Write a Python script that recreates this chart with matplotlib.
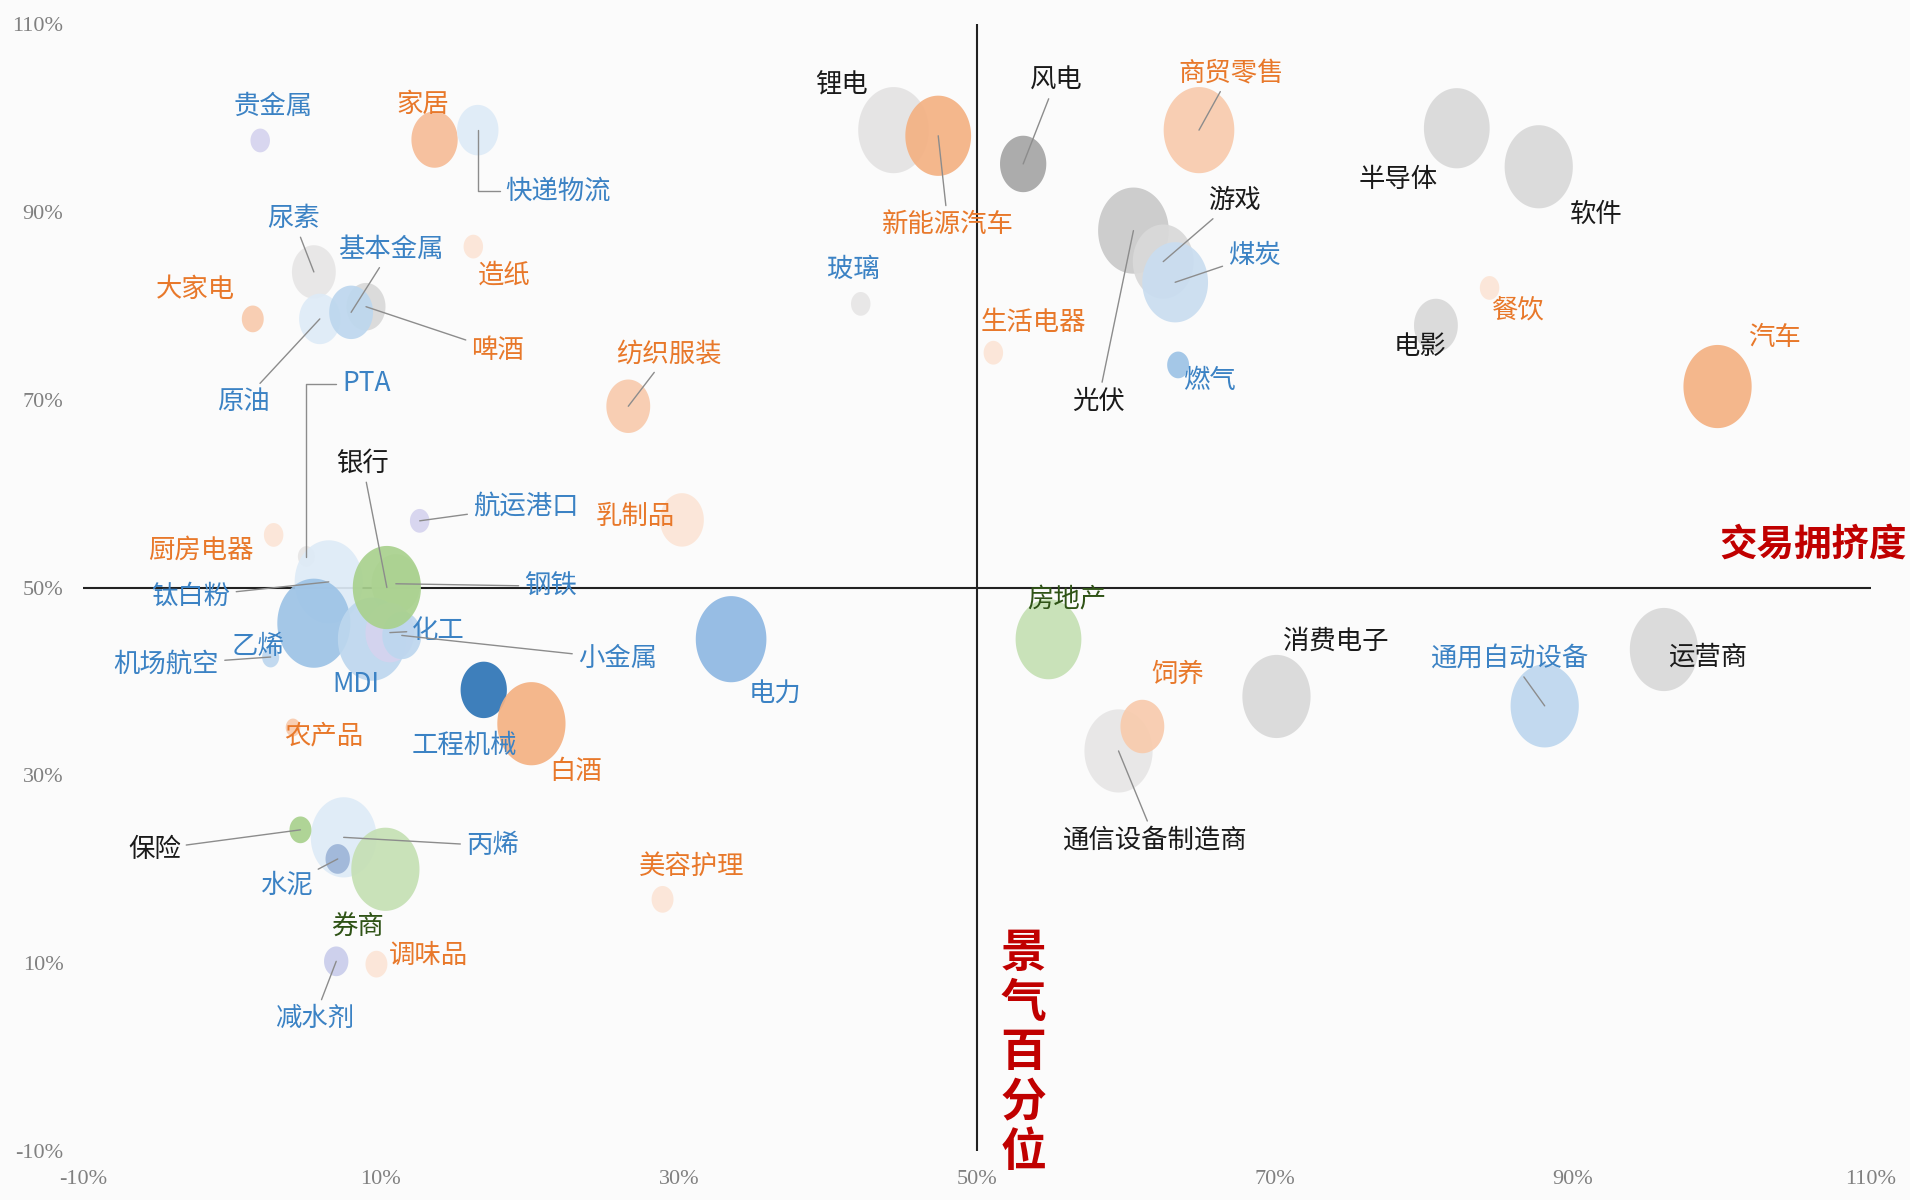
import numpy as np
import matplotlib
matplotlib.use("Agg")
import matplotlib.pyplot as plt
from matplotlib.path import Path

plt.rcParams['font.family'] = ['Noto Sans CJK SC', 'DejaVu Sans']

# ---------------- data ----------------
industries = ["贵金属", "家居", "快递物流", "造纸", "尿素", "原油", "啤酒", "基本金属", "大家电", "PTA",
              "纺织服装", "玻璃", "锂电", "新能源汽车", "风电", "商贸零售", "光伏", "游戏", "煤炭", "生活电器",
              "燃气", "半导体", "软件", "电影", "餐饮", "汽车", "钛白粉", "乙烯", "机场航空", "钢铁",
              "MDI", "化工", "小金属", "银行", "航运港口", "乳制品", "厨房电器", "电力", "工程机械", "白酒",
              "农产品", "丙烯", "保险", "水泥", "券商", "美容护理", "调味品", "减水剂", "房地产", "通信设备制造商",
              "饲养", "消费电子", "通用自动设备", "运营商"]
crowding = [1.9, 13.6, 16.5, 16.2, 5.5, 5.9, 9.0, 8.0, 1.4, 5.0,
            26.6, 42.2, 44.4, 47.4, 53.1, 64.9, 60.5, 62.5, 63.3, 51.1,
            63.5, 82.2, 87.7, 80.8, 84.4, 99.7, 6.5, 5.5, 2.6, 11.0,
            9.4, 10.6, 11.4, 10.4, 12.6, 30.2, 2.8, 33.5, 16.9, 20.1,
            4.1, 7.5, 4.6, 7.1, 10.3, 28.9, 9.7, 7.0, 54.8, 59.5,
            61.1, 70.1, 88.1, 96.1]
prosperity = [97.6, 97.7, 98.7, 86.3, 83.6, 78.6, 79.9, 79.3, 78.6, 53.3,
              69.3, 80.2, 98.7, 98.1, 95.1, 98.7, 88.0, 84.7, 82.5, 75.0,
              73.7, 98.9, 94.8, 77.9, 81.9, 71.4, 50.6, 46.2, 42.6, 50.4,
              44.5, 45.2, 44.9, 50.0, 57.1, 57.2, 55.6, 44.5, 39.1, 35.5,
              35.1, 23.4, 24.2, 21.1, 20.0, 16.8, 9.9, 10.2, 44.5, 32.6,
              35.2, 38.4, 37.4, 43.4]
bubble_size = [8, 19, 17, 8, 18, 17, 16, 18, 9, 7,
               18, 8, 29, 27, 19, 29, 29, 25, 27, 8,
               9, 27, 28, 18, 8, 28, 28, 30, 7, 20,
               28, 20, 16, 28, 8, 18, 8, 29, 19, 28,
               6, 27, 9, 10, 28, 9, 9, 10, 27, 28,
               18, 28, 28, 28]
group = ["blue", "orange", "blue", "orange", "blue", "blue", "orange", "blue", "orange", "blue",
         "orange", "blue", "black", "orange", "black", "orange", "black", "black", "blue", "orange",
         "blue", "black", "black", "black", "orange", "orange", "blue", "blue", "blue", "blue",
         "blue", "blue", "blue", "black", "blue", "orange", "orange", "blue", "blue", "orange",
         "orange", "blue", "black", "blue", "green", "orange", "orange", "blue", "green", "black",
         "orange", "black", "blue", "black"]
ticks = [-10, 10, 30, 50, 70, 90, 110]
tick_labels = ["-10%", "10%", "30%", "50%", "70%", "90%", "110%"]

# ---------------- styles / layout ----------------
bubble_color = ["#D5D3EE", "#F6BC97", "#DEEBF7", "#FBE5D6", "#E7E6E6", "#DEEBF7", "#D9D9D9", "#BDD7EE", "#F8CBAD", "#E7E6E6",
                "#F8CBAD", "#E7E6E6", "#E4E3E3", "#F4B183", "#A5A5A5", "#F8CBAD", "#C9C9C9", "#D9D9D9", "#C9DDF0", "#FBE5D6",
                "#9DC3E6", "#D9D9D9", "#D9D9D9", "#D9D9D9", "#FBE5D6", "#F4B183", "#DEEBF7", "#9DC3E6", "#BDD7EE", "#D6E3C6",
                "#BDD7EE", "#D5D3EE", "#BDD7EE", "#A9D18E", "#D5D3EE", "#FBE5D6", "#FBE5D6", "#8FB8E3", "#2E75B6", "#F4B183",
                "#F8CBAD", "#DEEBF7", "#A9D18E", "#9DB5D8", "#C5E0B4", "#FBE5D6", "#FBE5D6", "#C9CDEB", "#C5E0B4", "#E7E6E6",
                "#F8CBAD", "#D9D9D9", "#BDD7EE", "#D9D9D9"]
text_color = {"blue": "#3B82C4", "orange": "#E8782A", "black": "#1A1A1A", "green": "#2F5316"}
# label offsets in points (dx, dy) and leader style: 0 none, 1 straight, 2 elbow
label_offset = {
    "贵金属": (9.6, 24.6, 0), "家居": (-8.8, 25.4, 0), "快递物流": (57.9, -43.9, 2), "造纸": (21.9, -20.2, 0),
    "尿素": (-14.9, 38.6, 1), "原油": (-55.3, -59.6, 1), "基本金属": (28.9, 45.6, 1), "啤酒": (94.7, -31.6, 1),
    "大家电": (-41.2, 21.0, 0), "PTA": (43, 124.5, 2), "纺织服装": (28.9, 37.7, 1), "玻璃": (-5.3, 24.6, 0),
    "锂电": (-37.7, 32.4, 0), "新能源汽车": (7.0, -64.0, 1), "风电": (23.7, 60.5, 1), "商贸零售": (22.8, 41.2, 1),
    "光伏": (-25.4, -122.8, 1), "游戏": (50.9, 43.9, 1), "煤炭": (57, 19.3, 1), "生活电器": (28.9, 21.9, 0),
    "燃气": (22.8, -11.4, 0), "半导体": (-42.1, -36.8, 0), "软件": (41.2, -34.2, 0), "电影": (-11.4, -14.9, 0),
    "餐饮": (20.2, -15.8, 0), "汽车": (41.2, 35.1, 0), "银行": (-17.5, 89.5, 1), "航运港口": (76.3, 10.5, 1),
    "乳制品": (-33.3, 2.6, 0), "厨房电器": (-52.6, -11.4, 0), "钛白粉": (-99.1, -10.5, 1), "乙烯": (-40.3, -16.7, 0),
    "机场航空": (-75, -5.3, 1), "MDI": (-11.4, -32.4, 0), "化工": (35.1, 1.8, 1), "钢铁": (111.4, -1.8, 1),
    "小金属": (155.2, -16.7, 1), "电力": (31.6, -39.5, 0), "工程机械": (-14, -40.3, 0), "白酒": (31.6, -34.2, 0),
    "农产品": (21.9, -6.1, 0), "保险": (-105.2, -14, 1), "丙烯": (107, -6.1, 1), "水泥": (-36.8, -19.3, 1),
    "券商": (-20.2, -41.2, 0), "美容护理": (21, 23.7, 0), "调味品": (37.7, 6.1, 0), "减水剂": (-15.8, -41.2, 1),
    "房地产": (13.2, 28.1, 0), "饲养": (25.4, 37.7, 0), "通信设备制造商": (26.3, -64, 1), "消费电子": (43, 39.5, 0),
    "通用自动设备": (-24.6, 34.2, 1), "运营商": (31.6, -5.3, 0),
}

# ---------------- figure ----------------
fig = plt.figure(figsize=(19.1, 12), dpi=100, facecolor="#FBFBFB")
ax = fig.add_axes([0.0434, 0.0408, 0.9362, 0.9392])
ax.set_facecolor("#FBFBFB")
ax.set_xlim(-10, 110)
ax.set_ylim(-10, 110)
for sp in ax.spines.values():
    sp.set_visible(False)

ax.set_xticks(ticks)
ax.set_yticks(ticks)
ax.set_xticklabels(tick_labels, family="Liberation Serif", fontsize=16, color="#808080")
ax.set_yticklabels(tick_labels, family="Liberation Serif", fontsize=16, color="#808080")
ax.tick_params(axis="both", length=0)
ax.tick_params(axis="x", pad=14)
ax.tick_params(axis="y", pad=14)

# quadrant lines
ax.axhline(50, color="#222222", lw=1.5, zorder=1)
ax.axvline(50, color="#222222", lw=1.5, zorder=1)

# elliptical bubble marker (slightly taller than wide as in the reference)
th = np.linspace(0, 2 * np.pi, 120)
ell = Path(np.column_stack([0.82 * np.cos(th), np.sin(th)]), closed=True)
sizes = (2.139 * np.array(bubble_size, dtype=float)) ** 2

ax.scatter(crowding, prosperity, s=sizes, c=bubble_color, marker=ell,
           linewidths=0, alpha=0.92, zorder=2)

for name, x, y, g in zip(industries, crowding, prosperity, group):
    dx, dy, lead = label_offset[name]
    kw = dict(xy=(x, y), xytext=(dx, dy), textcoords="offset points",
              ha="center", va="center", fontsize=19, fontweight="medium",
              color=text_color[g], zorder=4)
    if lead:
        ap = dict(arrowstyle="-", color="#8C8C8C", lw=1.0, shrinkA=2, shrinkB=0)
        if lead == 2:
            ap["connectionstyle"] = "angle,angleA=0,angleB=90,rad=0"
        kw["arrowprops"] = ap
    ax.annotate(name, **kw)

# axis titles
ax.text(112.4, 54.6, "交易拥挤度", ha="right", va="center", fontsize=27,
        fontweight="bold", color="#C00000", zorder=5, clip_on=False)
ax.text(53.1, 0.4, "景\n气\n百\n分\n位", ha="center", va="center", fontsize=33,
        fontweight="bold", color="#C00000", linespacing=1.1, zorder=5, clip_on=False)

fig.savefig("out.png", dpi=100, facecolor=fig.get_facecolor())
